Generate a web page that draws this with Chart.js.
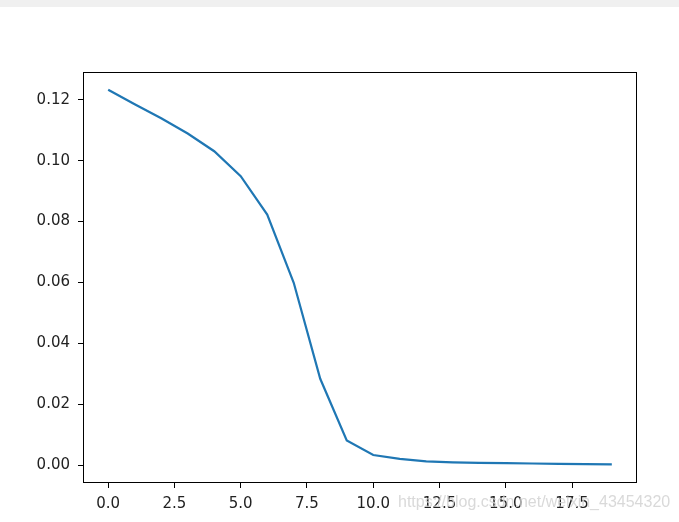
<!DOCTYPE html>
<html>
<head>
<meta charset="utf-8">
<script src="https://cdn.jsdelivr.net/npm/chart.js@4"></script>
<style>
    html, body { margin: 0; padding: 0; background: #fff; }
    #wrap { position: relative; width: 679px; height: 522px; }
    #topbar { position: absolute; left: 0; top: 0; width: 679px; height: 7px; background: #f0f0f0; }
    #mark {
        position: absolute; left: 398px; top: 493px;
        font: 16px "Liberation Sans", Arial, sans-serif;
        color: rgba(210, 210, 210, 0.85);
        white-space: nowrap;
    }
</style>
</head>
<body>
<div id="wrap">
    <canvas id="chart" width="679" height="522"></canvas>
    <div id="topbar"></div>
    <div id="mark">https://blog.csdn.net/weixin_43454320</div>
</div>
<script>
// данные
const steps = [0, 1, 2, 3, 4, 5, 6, 7, 8, 9, 10, 11, 12, 13, 14, 15, 16, 17, 18, 19];
const values = [
    0.1233, 0.1185, 0.1139, 0.1089, 0.1031, 0.0949, 0.0823, 0.0599, 0.0284, 0.0082,
    0.0034, 0.0021, 0.0013, 0.0010, 0.0008, 0.0007, 0.0006, 0.0005, 0.0004, 0.0003,
];
const xTicks = [0, 2.5, 5, 7.5, 10, 12.5, 15, 17.5];
const yTicks = [0, 0.02, 0.04, 0.06, 0.08, 0.10, 0.12];

const TICK_FONT = {family: '"DejaVu Sans", sans-serif', size: 15};

// рамка вокруг области графика, как у matplotlib
const frameBox = {
    id: 'frameBox',
    afterDraw(chart) {
        const {ctx, chartArea: a} = chart;
        ctx.save();
        ctx.strokeStyle = '#000';
        ctx.lineWidth = 1;
        ctx.strokeRect(a.left + 0.5, a.top + 0.5, a.right - a.left - 1, a.bottom - a.top - 1);
        ctx.restore();
    },
};

new Chart(document.getElementById('chart'), {
    type: 'line',
    data: {
        datasets: [
            {
                data: steps.map((x, i) => ({x: x, y: values[i]})),
                borderColor: '#1f77b4',
                borderWidth: 2.2,
                pointRadius: 0,
                tension: 0,
                fill: false,
            },
        ],
    },
    options: {
        responsive: false,
        animation: false,
        events: [],
        layout: {padding: {left: 0, top: 72, right: 42, bottom: 0}},
        plugins: {legend: {display: false}, tooltip: {enabled: false}},
        scales: {
            x: {
                type: 'linear',
                min: -0.95,
                max: 19.95,
                afterBuildTicks: (scale) => {
                    scale.ticks = xTicks.map((v) => ({value: v}));
                },
                afterFit: (scale) => {
                    scale.height = 39;
                },
                border: {display: false},
                grid: {drawOnChartArea: false, drawTicks: true, tickLength: 5, tickColor: '#000'},
                ticks: {
                    font: TICK_FONT,
                    color: '#222',
                    padding: 7,
                    maxRotation: 0,
                    callback: (v) => Number(v).toFixed(1),
                },
            },
            y: {
                type: 'linear',
                min: -0.0058,
                max: 0.1291,
                afterBuildTicks: (scale) => {
                    scale.ticks = yTicks.map((v) => ({value: v}));
                },
                afterFit: (scale) => {
                    scale.width = 83;
                },
                border: {display: false},
                grid: {drawOnChartArea: false, drawTicks: true, tickLength: 5, tickColor: '#000'},
                ticks: {
                    font: TICK_FONT,
                    color: '#222',
                    padding: 8,
                    callback: (v) => Number(v).toFixed(2),
                },
            },
        },
    },
    plugins: [frameBox],
});
</script>
</body>
</html>
